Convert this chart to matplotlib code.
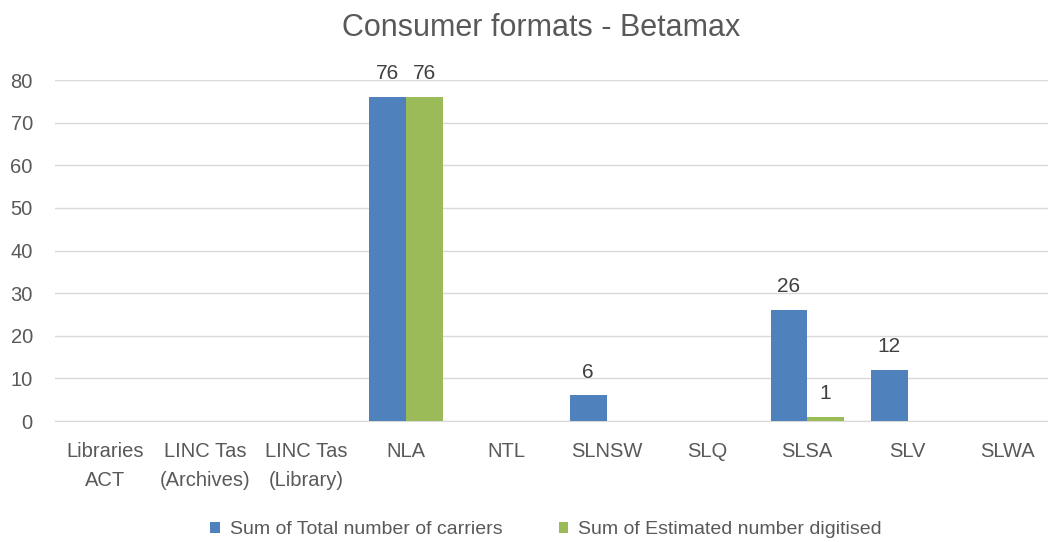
import matplotlib.pyplot as plt
import numpy as np

# chart data
categories = ['Libraries\nACT', 'LINC Tas\n(Archives)', 'LINC Tas\n(Library)', 'NLA', 'NTL',
              'SLNSW', 'SLQ', 'SLSA', 'SLV', 'SLWA']
total_carriers = [0, 0, 0, 76, 0, 6, 0, 26, 12, 0]
est_digitised = [0, 0, 0, 76, 0, 0, 0, 1, 0, 0]

plt.rcParams['font.family'] = ['Liberation Sans', 'DejaVu Sans']
txt = '#595959'

fig = plt.figure(figsize=(10.48, 5.42), dpi=100)
# plot area runs a little past the right edge, as in the original
ax = fig.add_axes([0.0525, 0.2232, 0.957, 0.629])

x = np.arange(len(categories))
w = 0.366
b1 = ax.bar(x - w/2, total_carriers, w, color='#4F81BD', label='Sum of Total number of carriers', zorder=3)
b2 = ax.bar(x + w/2, est_digitised, w, color='#9BBB59', label='Sum of Estimated number digitised', zorder=3)

# labels only where there is a value
for bars, vals in ((b1, total_carriers), (b2, est_digitised)):
    for r, v in zip(bars, vals):
        if v:
            ax.annotate(str(v), (r.get_x() + r.get_width()/2, v), xytext=(0, 10),
                        textcoords='offset points', ha='center', va='bottom',
                        fontsize=15, color='#404040')

ax.set_xlim(-0.5, len(categories) - 0.5)
ax.set_ylim(0, 80)
ax.set_yticks(range(0, 81, 10))
ax.set_xticks(x)
ax.set_xticklabels(categories, linespacing=1.7)
ax.yaxis.grid(True, color='#D9D9D9', linewidth=1, zorder=0)
for s in ['top', 'right', 'left']:
    ax.spines[s].set_visible(False)
ax.spines['bottom'].set_color('#D9D9D9')
ax.tick_params(axis='both', length=0, labelsize=14.5, colors=txt)
ax.tick_params(axis='x', pad=15)
ax.tick_params(axis='y', pad=16)

fig.text(0.516, 0.948, 'Consumer formats - Betamax', fontsize=22, color=txt,
         ha='center', va='center')

fig.legend(loc='lower center', bbox_to_anchor=(0.521, -0.025), ncol=2, frameon=False,
           fontsize=14, labelcolor=txt, handlelength=0.5, handleheight=0.5,
           handletextpad=0.5, columnspacing=2.9)

fig.savefig('out.png', dpi=100)
